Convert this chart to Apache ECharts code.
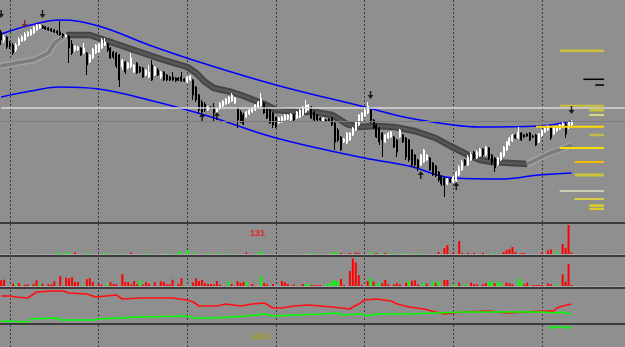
<!DOCTYPE html>
<html><head><meta charset="utf-8">
<script src="https://cdn.jsdelivr.net/npm/echarts@6/dist/echarts.min.js"></script>
<style>html,body{margin:0;padding:0;background:#8f8f8f;overflow:hidden}#c{width:625px;height:347px}</style>
</head><body><div id="c"></div>
<script>
// ---- main price panel (price units, bar index 0..193) ----
const opens  = [218,210,213,207,205,200,205,209,210,214, 215,217,220,222,224,223,222,221,220,219, 218,216,213,214,206,200,200,202,197,197,
 188,192,197,198,202,205,206,202,198,197, 195,183,188,182,183,178,187,183,182,175, 173,185,175,180,173,178,175,173,173,172,
 172,173,171,168,170,170,163,155,148,146, 140,143,143,138,142,144,146,147,149,147, 142,138,135,133,136,138,140,143,144,147,
 142,140,137,132,127,128,130,131,130,135, 132,133,135,138,140,143,138,135,132,129, 130,131,132,127,120,113,108,107,110,115,
 120,125,129,134,137,140,130,125,122,117, 108,112,113,113,110,113,115,112,110,100, 95,90,85,88,90,92,87,84,78,74,
 72,66,71,68,69,75,80,90,85,90, 98,92,94,101,95,102,95,92,85,90, 94,100,105,109,115,112,117,115,116,117,
 114,115,108,114,118,120,123,116,119,121, 123,126,122,125];
const closes = [210,213,203,203,197,205,211,213,216,218, 220,223,225,225,222,221,220,219,218,217, 215,214,215,202,197,204,203,195,202,185,
 195,201,205,206,210,208,200,192,193,184, 170,190,178,187,192,185,177,178,173,180, 178,170,183,175,178,170,170,170,170,169,
 170,169,169,173,174,155,150,140,138,140, 143,142,137,141,147,149,151,153,155,152, 130,129,126,138,140,142,145,148,152,137,
 132,127,125,123,132,133,135,135,136,130, 138,140,143,145,145,132,130,130,130,132, 129,129,125,108,110,100,111,117,117,122,
 128,135,137,140,144,128,122,113,108,110, 115,117,118,103,98,120,108,93,90,85, 85,82,95,100,95,80,75,74,70,66,
 65,71,68,73,78,83,88,85,93,96, 92,98,101,95,103,92,87,82,92,97, 103,108,112,115,112,118,110,113,114,110,
 113,105,116,120,122,124,112,122,123,125, 127,116,128,128];
const lows   = [205,207,201,201,195,198,204,208,209,213, 214,216,219,221,221,220,219,218,217,215, 214,212,212,187,195,198,199,194,196,175,
 187,191,196,197,201,204,198,191,191,182, 163,180,176,181,182,177,176,177,172,174, 172,169,174,174,171,169,169,169,169,168,
 169,168,168,167,169,150,148,137,136,138, 139,141,128,137,140,143,145,146,148,146, 122,127,125,132,135,137,139,142,143,136,
 131,126,122,122,126,127,129,130,129,129, 131,132,134,137,139,131,129,129,129,128, 128,128,124,100,108,99,107,106,109,114,
 119,124,128,133,136,127,121,112,105,93, 107,111,112,102,93,112,107,90,88,83, 82,79,84,87,89,79,74,73,68,64,
 53,65,67,67,68,74,79,84,84,89, 91,91,93,93,94,90,85,78,84,89, 93,99,104,108,111,111,109,112,113,109,
 112,104,107,113,117,119,110,115,118,120, 122,112,121,124];
const highs  = [220,215,214,209,207,207,213,215,218,219, 221,224,226,226,225,224,223,222,221,220, 229,217,216,215,210,205,204,203,207,198,
 196,202,206,207,212,212,207,203,199,198, 196,191,189,188,197,186,188,184,183,181, 185,190,184,182,179,179,176,174,178,173,
 173,178,172,174,175,171,164,156,150,148, 144,144,147,142,148,150,152,154,157,153, 143,140,137,139,141,143,146,149,157,148,
 143,141,138,133,133,134,136,136,137,136, 139,141,144,150,146,144,139,136,133,133, 131,132,133,128,122,114,112,118,118,123,
 129,136,138,142,148,141,131,126,123,118, 116,118,119,114,111,121,116,113,111,101, 96,91,96,101,96,93,88,85,79,75,
 73,72,72,74,79,85,90,91,95,98, 99,100,102,102,104,103,96,93,93,98, 104,109,113,116,116,123,118,116,117,118,
 115,116,117,121,123,125,124,123,124,126, 128,127,129,130];
const slotCount = 212;
const gridEvery = 30, gridFirst = 3;

const bandUpper = [[0,216],[10,225],[20,230],[33,224],[50,205],[67,188],[93,165],[123,143],[138,132],[153,125],[162,123],[182,124],[193,129]];
const bandLower = [[0,153],[10,159],[20,163],[33,161],[50,150],[70,134],[93,112],[123,92],[138,84],[153,72],[169,71],[182,75],[193,77]];
const ribbonRiseA = [[0,184],[5,187],[11,190],[16,197],[18,207],[21,213],[22,215]];
const ribbonFall  = [[22,215],[30,215],[32,213],[37,208],[45,200],[55,190],[63,183],[66,177],[69,168],[72,162],[78,158],[82,154],[89,146],[93,140],[101,138],[106,138],[112,135],[117,126],[121,123],[127,124],[133,123],[140,119],[147,112],[152,104],[158,95],[162,90],[166,88],[178,86]];
const ribbonRiseB = [[178,86],[185,96],[193,105]];
const hLevels = [142.3, 128.3];
const levelPrice = [199.3,170.7,165,144.3,140,135,123.3,115,102,88,75,59,51,44.3,41];
const levelFrom  = [189,197,201,189,199,199,181,199,189,194,194,189,194,199,199];
const levelTo    = [204,204,204,204,204,204,204,204,204,204,204,204,204,204,204];
const arrowsDown = [[0,236],[14,236],[125,155],[193,140]];
const arrowsDownRed = [[8,226]];
const arrowsUp = [[68,133],[73,134],[142,75],[154,64]];

// ---- panel 2 (counts) ----
const p2Green = [[19,1.5],[20,1],[22,1.5],[23,1.5],[29,1.5],[35,1],[36,1],[41,1],[49,1],[56,1],[60,2.5],[61,1.5],[63,4],[65,1.5],[70,1],[74,1.5],[77,1],[87,1],[88,3],[104,1],[106,1],[112,1.5],[113,1.5],[114,1.5],[125,2],[128,1],[131,1],[133,1],[136,1],[138,1],[141,1],[166,1],[188,2.5]];
const p2Red = [[25,1.5],[44,1.5],[83,1.5],[115,1],[118,1],[120,1.5],[121,1],[127,1],[130,1],[148,2],[150,6],[151,9],[153,1.5],[155,13],[156,1],[158,1],[160,1],[163,1],[170,2],[171,4],[172,5],[173,7],[174,2],[176,1],[177,1],[183,1.5],[185,3.5],[186,4.5],[190,10],[191,6],[192,29],[193,1.5]];
// ---- panel 3 (volume) ----
const p3Red = [[0,5.7],[1,6.3],[4,2.3],[6,3],[8,1.3],[9,1.7],[11,2.3],[12,5.7],[14,2.3],[16,1.7],[17,1.7],[18,4.7],[20,9.7],[22,8.3],[23,7.7],[24,8.7],[25,4],[26,4],[29,6.7],[30,8],[31,4],[33,2],[34,1.3],[37,3.7],[38,2],[39,1.7],[41,11.7],[42,4],[43,4],[44,1.7],[45,5],[46,1.7],[48,1.3],[49,4],[50,2.3],[52,3.7],[54,4.7],[55,4],[56,1.7],[57,1.7],[58,6.3],[60,2.3],[61,7.7],[65,3.7],[66,7.7],[67,5],[68,6],[69,3],[70,2],[71,2],[72,1.5],[73,5],[74,1.5],[78,2],[80,5],[81,3],[82,4],[85,2],[89,3],[90,1.5],[92,2],[95,5],[96,4],[97,2],[99,1.5],[102,2],[105,1],[106,1],[107,1],[108,1],[115,7],[116,1],[118,15],[119,27.7],[120,23.7],[121,11],[122,1],[124,5],[126,4.3],[129,2.7],[130,6],[131,1.7],[133,1.7],[134,2.7],[135,1.7],[137,3.3],[139,5.3],[140,5.7],[141,1.7],[144,2.3],[147,2.7],[150,6],[151,6],[155,3.3],[159,3.3],[160,1.7],[161,1.7],[163,1.7],[164,2.7],[167,2.7],[171,3.3],[172,2.7],[173,1.7],[177,1.7],[178,3.3],[180,1],[181,1],[182,1],[183,1],[185,2.7],[186,1.7],[190,11.7],[191,4.3],[192,22],[193,1]];
const p3Green = [[5,1.7],[13,2.3],[28,1.3],[36,2.3],[47,5.7],[63,0.7],[77,5],[83,4],[88,10],[103,2],[104,2],[110,1.7],[111,2.7],[112,5],[113,5.7],[114,5],[125,8.3],[127,1.7],[128,3.3],[138,5.3],[143,3.3],[146,4.3],[148,5],[153,1],[154,1.5],[157,1.5],[165,4.3],[166,4.3],[168,4.3],[169,2.7],[175,7.7],[176,5],[188,1.7]];
// ---- panel 4 (two lines) ----
const p4Red = [[0,26],[3,26],[5,25],[9,24],[12,30],[17,31],[21,31],[23,29],[29,28],[32,25],[39,27],[41,23],[47,24],[58,24],[63,22],[65,20],[67,16],[73,16],[76,18],[81,16],[85,18],[89,19],[92,14],[95,14],[99,16],[104,17],[112,15],[118,13],[119,15],[121,18],[123,22],[127,23],[132,21],[134,18],[138,15],[143,13],[147,10],[150,8],[156,10],[165,11],[171,9],[178,10],[183,11],[187,11],[188,14],[190,16],[193,18]];
const p4Green = [[0,1],[9,0],[10,3],[19,4],[20,2],[32,2],[33,3],[47,5],[63,6],[65,4],[72,4],[83,6],[89,8],[92,6],[108,8],[114,9],[115,7],[122,8],[124,6],[127,8],[138,8],[147,9],[156,10],[183,10],[188,9],[190,10],[191,9],[193,8]];
// ---- panel 5 ----
const p5Green = [[185,19],[188,20],[190,20],[191,19],[193,20]];
const label2 = '131', label5 = '1814';

const slots = Array.from({length: slotCount}, (_, i) => String(i));
const candles = opens.map((o, i) => [o, closes[i], lows[i], highs[i]]);
const levels = levelPrice.map((p, i) => [levelFrom[i], levelTo[i], p]);
const levelStyle = [['#c9c23a',2.5],['#000',1.5],['#000',1.5],['#c9c23a',2],['#c9c23a',3],['#f4f07a',1.5],['#ffd700',2],['#c2b848',2.5],['#f8e000',2],['#f5b800',2],['#c9c23a',3],['#e2e0c0',1.5],['#f2e030',1.5],['#d4c830',3],['#f8e000',1.5]];

const grids = [
  {top:0,height:222},{top:224,height:30},{top:258,height:28},{top:290,height:32},{top:325,height:22}
].map(g => Object.assign({left:1.13,right:0.27,containLabel:false}, g));
const yRanges = [[28,250],[0,30],[0,28],[0,32],[0,22]];
const dottedBase = [false,true,true,false,false];

const xAxes = grids.map((g, k) => ({
  type:'category', gridIndex:k, data:slots, boundaryGap:false,
  axisLabel:{show:false}, axisTick:{show:false},
  axisLine:{show:dottedBase[k], lineStyle:{color:'#b8b8b8', type:[1,2], width:1}},
  splitLine:{show:true, interval:(i)=> i % gridEvery === gridFirst, lineStyle:{color:'#3a3a3a', type:[2,2], width:1}}
}));
const yAxes = grids.map((g, k) => ({type:'value', gridIndex:k, min:yRanges[k][0], max:yRanges[k][1], show:false, splitLine:{show:false}}));

const downPath = 'path://M3,0 L5,0 L5,5 L8,5 L4,10 L0,5 L3,5 Z';
const upPath = 'path://M4,0 L8,5 L5,5 L5,10 L3,10 L3,5 L0,5 Z';

function ribbon(data, outer, inner, innerW, name){
  return [
    {name:name+'o', type:'line', data, xAxisIndex:0, yAxisIndex:0, symbol:'none', z:2, lineStyle:{color:outer, width:6.5, join:'round'}, silent:true},
    {name:name+'i', type:'line', data, xAxisIndex:0, yAxisIndex:0, symbol:'none', z:2, lineStyle:{color:inner, width:innerW, join:'round'}, silent:true}
  ];
}
function bars(data, color, k){
  return {type:'bar', data, xAxisIndex:k, yAxisIndex:k, barWidth:2, barGap:'-100%', itemStyle:{color}, silent:true};
}
function line(data, color, k, w){
  return {type:'line', data, xAxisIndex:k, yAxisIndex:k, symbol:'none', lineStyle:{color, width:w}, silent:true};
}

const series = [
  ...ribbon(ribbonRiseA, '#a2a2a2', '#7c7c7c', 3.5, 'ra'),
  ...ribbon(ribbonFall, '#454545', '#585858', 2.5, 'rf'),
  ...ribbon(ribbonRiseB, '#a2a2a2', '#7c7c7c', 3.5, 'rb'),
  {type:'line', data:bandUpper, smooth:0.4, symbol:'none', z:3, lineStyle:{color:'#0000ff', width:1.5}},
  {type:'line', data:bandLower, smooth:0.4, symbol:'none', z:3, lineStyle:{color:'#0000ff', width:1.5}},
  {type:'candlestick', data:candles, barWidth:1.5, z:4,
    itemStyle:{color:'#ffffff', color0:'#000000', borderColor:'#ffffff', borderColor0:'#000000', borderWidth:1},
    markLine:{silent:true, symbol:'none', label:{show:false},
      data:[{yAxis:hLevels[0], lineStyle:{color:'#d8d8d8', width:1.5, type:'solid'}},
            {yAxis:hLevels[1], lineStyle:{color:'#7c7c7c', width:1, type:'solid'}}]}},
  {type:'custom', data:levels, encode:{x:[0,1], y:2}, z:5, silent:true,
    renderItem:(params, api) => {
      const a = api.coord([api.value(0), api.value(2)]);
      const b = api.coord([api.value(1), api.value(2)]);
      const st = levelStyle[params.dataIndex];
      return {type:'line', shape:{x1:a[0], y1:a[1], x2:b[0], y2:b[1]}, style:{stroke:st[0], lineWidth:st[1]}};
    }},
  {type:'scatter', data:arrowsDown, symbol:downPath, symbolSize:[6,8], z:6, itemStyle:{color:'#000'}},
  {type:'scatter', data:arrowsDownRed, symbol:downPath, symbolSize:[6,8], z:6, itemStyle:{color:'#6e1818'}},
  {type:'scatter', data:arrowsUp, symbol:upPath, symbolSize:[6,8], z:6, itemStyle:{color:'#000'}},
  bars(p2Red, '#ff0000', 1), bars(p2Green, '#00ff00', 1),
  bars(p3Red, '#ff0000', 2), bars(p3Green, '#00ff00', 2),
  line(p4Red, '#ff1010', 3, 1.6), line(p4Green, '#00ff00', 3, 1.6),
  line(p5Green, '#00ff00', 4, 1.5)
];

const chart = echarts.init(document.getElementById('c'), null, {renderer:'canvas'});
chart.setOption({
  animation:false,
  backgroundColor:'#8f8f8f',
  grid:grids, xAxis:xAxes, yAxis:yAxes, series,
  graphic:[
    {type:'rect', shape:{x:0,y:222,width:625,height:2}, style:{fill:'#3c3c3c'}, z:100},
    {type:'rect', shape:{x:0,y:255,width:625,height:2}, style:{fill:'#3c3c3c'}, z:100},
    {type:'rect', shape:{x:0,y:287,width:625,height:2}, style:{fill:'#3c3c3c'}, z:100},
    {type:'rect', shape:{x:0,y:323,width:625,height:2}, style:{fill:'#3c3c3c'}, z:100},
    {type:'text', left:250, top:229, style:{text:label2, fill:'#e02828', font:'bold 9px "Liberation Sans", Arial'}, z:100},
    {type:'text', left:250, top:332, style:{text:label5, fill:'#9e9e1e', font:'bold 9px "Liberation Sans", Arial'}, z:100}
  ]
});
</script>
</body></html>
